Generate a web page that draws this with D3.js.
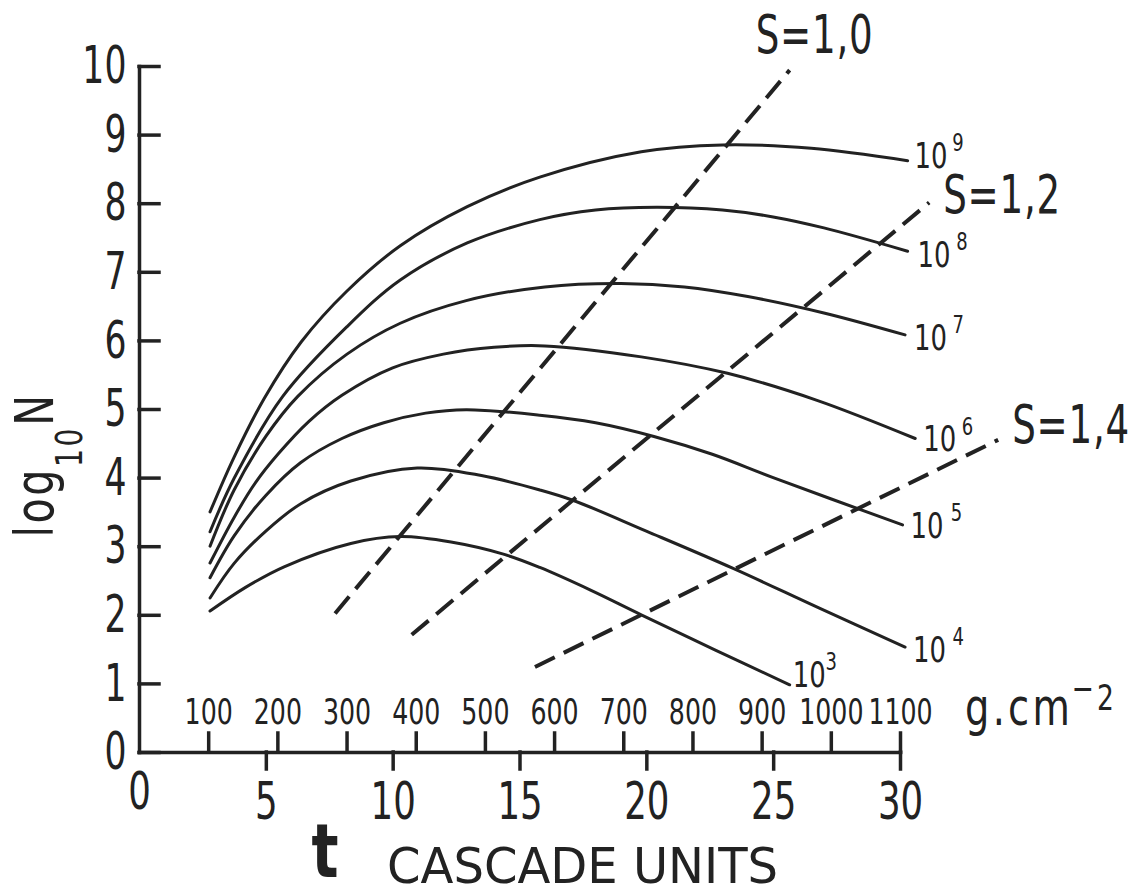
<!DOCTYPE html>
<html>
<head>
<meta charset="utf-8">
<script src="https://cdn.jsdelivr.net/npm/d3@7"></script>
<style>
  html, body { margin: 0; padding: 0; background: #fff; }
  svg { display: block; }
  text { font-family: "DejaVu Sans Condensed", "DejaVu Sans", sans-serif; fill: #222; }
</style>
</head>
<body>
<svg id="chart" width="1139" height="895"></svg>
<script>
// Longitudinal shower development: log10 of electron number versus depth t (cascade units)
// for primary energies 10^3 ... 10^9, with lines of constant age S.

const energyExponents = [3, 4, 5, 6, 7, 8, 9];

const showerE3 = [[2.8,2.055],[4.2,2.4],[5.72,2.70],[8.35,3.04],[10.3,3.14],[12.3,3.06],[14.4,2.88],[15.8,2.69],[17.8,2.36],[19.8,2.0],[22.7,1.49],[25.65,0.98]];
const showerE4 = [[2.8,2.245],[3.75,2.75],[5.0,3.22],[6.38,3.62],[8.35,3.95],[10.97,4.14],[13.5,4.03],[15.8,3.82],[17.1,3.67],[20.0,3.22],[23.4,2.68],[26.8,2.1],[30.2,1.53]];
const showerE5 = [[2.8,2.54],[3.75,3.15],[5.0,3.74],[6.38,4.22],[8.0,4.57],[9.65,4.8],[11.3,4.94],[12.9,4.99],[15.8,4.91],[18.0,4.80],[20.3,4.60],[22.6,4.34],[25.0,4.0],[30.1,3.31]];
const showerE6 = [[2.8,2.755],[3.75,3.42],[4.6,3.93],[5.5,4.35],[6.7,4.82],[8.0,5.2],[10.0,5.6],[12.0,5.8],[14.0,5.9],[16.0,5.92],[19.8,5.76],[23.2,5.52],[26.7,5.13],[30.6,4.57]];
const showerE7 = [[2.8,3.0],[3.75,3.82],[5.0,4.6],[6.25,5.18],[8.2,5.8],[10.3,6.25],[12.9,6.58],[16.0,6.78],[19.0,6.83],[21.5,6.78],[24.0,6.64],[27.0,6.40],[30.2,6.08]];
const showerE8 = [[2.8,3.21],[3.75,3.99],[5.66,5.18],[8.2,6.2],[10.3,6.88],[12.94,7.42],[15.8,7.76],[18.0,7.9],[20.4,7.94],[23.0,7.9],[25.0,7.80],[27.0,7.64],[30.3,7.30]];
const showerE9 = [[2.8,3.5],[3.75,4.3],[4.93,5.15],[6.4,5.98],[8.2,6.72],[10.3,7.38],[12.94,7.95],[15.8,8.38],[19.8,8.75],[23.0,8.85],[26.5,8.80],[30.3,8.62]];

// Lines of constant shower age (straight segments between two end points)
const ageValues = ["1,0", "1,2", "1,4"];
const ageLine10 = [[7.73,2.02],[25.65,9.94]];
const ageLine12 = [[10.75,1.71],[31.15,8.01]];
const ageLine14 = [[15.61,1.24],[33.87,4.55]];

// Axis ticks
const yTicks = [0,1,2,3,4,5,6,7,8,9,10];
const tTicks = [0,5,10,15,20,25,30];
const depthTicks = [100,200,300,400,500,600,700,800,900,1000,1100];

const showers = [showerE3, showerE4, showerE5, showerE6, showerE7, showerE8, showerE9];
const ageLines = [ageLine10, ageLine12, ageLine14];

const ink = "#222";
const svg = d3.select("#chart");

const x = d3.scaleLinear().domain([0, 30]).range([139, 900]);
const y = d3.scaleLinear().domain([0, 10]).range([752, 66]);
// 1100 g/cm^2 corresponds to 30 cascade units
const depth = d3.scaleLinear().domain([0, 1100]).range([x(0), x(30)]);

// narrow lettering: a text inside a horizontally squeezed group
function squeezed(px, py, sx) {
  return svg.append("g")
    .attr("transform", `translate(${px},${py}) scale(${sx},1)`)
    .append("text");
}

// ---- axes ----
const yAxis = svg.append("g")
  .attr("transform", `translate(${x(0)},0)`)
  .call(d3.axisLeft(y).tickValues(yTicks).tickFormat(d3.format("d"))
    .tickSizeInner(-20).tickSizeOuter(0).tickPadding(17));

const tAxis = svg.append("g")
  .attr("transform", `translate(0,${y(0)})`)
  .call(d3.axisBottom(x).tickValues(tTicks).tickFormat(d3.format("d"))
    .tickSizeInner(17).tickSizeOuter(0).tickPadding(13));

const gAxis = svg.append("g")
  .attr("transform", `translate(0,${y(0)})`)
  .call(d3.axisTop(depth).tickValues(depthTicks).tickFormat(d3.format("d"))
    .tickSizeInner(19).tickSizeOuter(0).tickPadding(9));

[yAxis, tAxis, gAxis].forEach(g => {
  g.attr("color", ink).attr("font-family", null);
  g.selectAll("path, line").attr("stroke-width", 3.5).attr("stroke-linecap", "square");
});
gAxis.select(".domain").remove();
yAxis.selectAll("text").attr("font-size", 52).attr("transform", "scale(0.74,1)");
tAxis.selectAll("text").attr("font-size", 52).attr("transform", "scale(0.76,1)");
gAxis.selectAll("text").attr("font-size", 36).attr("transform", "scale(0.78,1)");
// no tick mark at t = 0; its label sits a little higher
tAxis.selectAll(".tick").filter(d => d === 0).select("line").remove();
tAxis.selectAll(".tick").filter(d => d === 0).select("text").attr("y", 20);

// ---- shower curves ----
const line = d3.line()
  .x(d => x(d[0]))
  .y(d => y(d[1]))
  .curve(d3.curveCatmullRom.alpha(0.5));

svg.append("g").selectAll("path")
  .data(showers)
  .join("path")
  .attr("d", line)
  .attr("fill", "none")
  .attr("stroke", ink)
  .attr("stroke-width", 3)
  .attr("stroke-linecap", "round");

// ---- constant-age lines ----
svg.append("g").selectAll("path")
  .data(ageLines)
  .join("path")
  .attr("d", d3.line().x(d => x(d[0])).y(d => y(d[1])))
  .attr("fill", "none")
  .attr("stroke", ink)
  .attr("stroke-width", 4)
  .attr("stroke-dasharray", "22,10");

// ---- curve labels 10^n ----
const labelNudge = { 3: [3, 2, 0], 4: [8, 15, 8], 5: [8, 13, 9], 6: [8, 13, 7], 7: [9, 15, 7], 8: [10, 16, 7], 9: [7, 7, 6] };
energyExponents.forEach((n, i) => {
  const end = showers[i][showers[i].length - 1];
  const [dx, dy, gap] = labelNudge[n];
  const t = squeezed(x(end[0]) + dx, y(end[1]) + dy, 0.8).attr("font-size", 36);
  t.append("tspan").text("10");
  t.append("tspan").attr("dx", gap).attr("dy", -17).attr("font-size", 25).text(n);
});

// ---- age labels ----
const ageNudge = [[-34, -17], [14, 10], [14, 3]];
ageLines.forEach((seg, i) => {
  const top = seg[1];
  squeezed(x(top[0]) + ageNudge[i][0], y(top[1]) + ageNudge[i][1], 0.78)
    .attr("font-size", 53)
    .attr("letter-spacing", 1)
    .text("S=" + ageValues[i]);
});

// ---- axis titles ----
const yTitle = svg.append("g")
  .attr("transform", "translate(53,465) rotate(-90) scale(0.85,1)")
  .append("text")
  .attr("text-anchor", "middle")
  .attr("font-size", 54)
  .attr("letter-spacing", 3);
yTitle.append("tspan").text("log");
yTitle.append("tspan").attr("font-size", 37).attr("dy", 29).text("10");
yTitle.append("tspan").attr("dy", -29).text("N");

squeezed(325, 877, 0.85)
  .attr("text-anchor", "middle")
  .attr("font-weight", "bold")
  .attr("font-size", 74)
  .text("t");

svg.append("text")
  .attr("x", 387).attr("y", 883)
  .attr("font-size", 50)
  .attr("textLength", 391)
  .attr("lengthAdjust", "spacingAndGlyphs")
  .text("CASCADE UNITS");

const unit = squeezed(965, 725, 0.82)
  .attr("font-size", 52)
  .attr("letter-spacing", 4);
unit.append("tspan").text("g.cm");
unit.append("tspan").attr("font-size", 36).attr("dx", -2).attr("dy", -24).text("−");
unit.append("tspan").attr("font-size", 36).attr("dx", 0).attr("dy", 9).text("2");
</script>
</body>
</html>
